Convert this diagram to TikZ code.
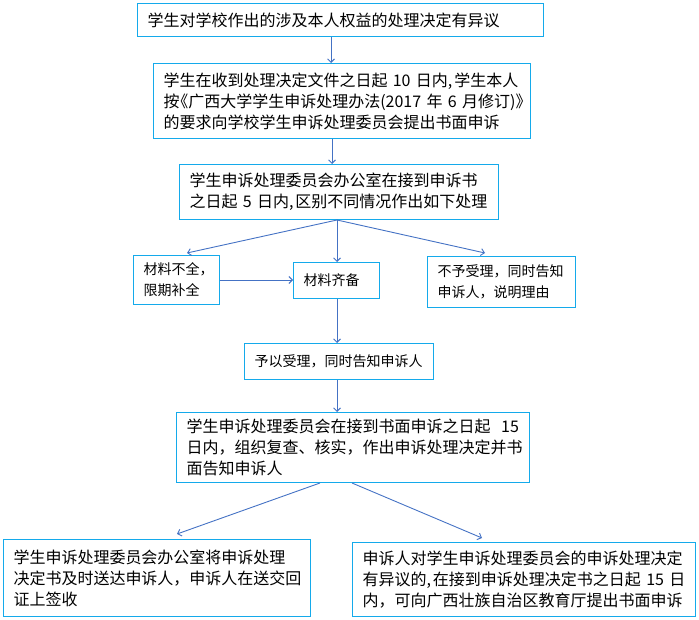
\documentclass[tikz,border=0pt]{standalone}
\usepackage{fontspec}
\setmainfont{Noto Sans CJK SC}
\usetikzlibrary{arrows.meta,calc}
\definecolor{boxc}{RGB}{20,170,235}
\definecolor{arrc}{RGB}{68,114,196}
\begin{document}
\begin{tikzpicture}[x=1pt,y=1pt,
  box/.style={draw=boxc, line width=1pt, anchor=north west, align=left,
    inner xsep=10pt, inner ysep=0pt, font=\fontsize{16}{21}\selectfont},
  sbox/.style={box, font=\fontsize{14}{21}\selectfont},
  arr/.style={draw=arrc, line width=0.9pt, -{Straight Barb[length=3.5pt,width=7pt]}}]
\useasboundingbox (0,0) rectangle (699,-620);
\node[box, text width=386pt, minimum height=33pt] (b1) at (137,-3)
  {学生对学校作出的涉及本人权益的处理决定有异议};
\node[box, text width=357pt, minimum height=75pt] (b2) at (153,-63)
  {学生在收到处理决定文件之日起~10~日内,\hspace{2pt}学生本人\\\mbox{按\kern-.45em《广西大学学生申诉处理办法(2017~年~6~月修订)》}\\的要求向学校学生申诉处理委员会提出书面申诉};
\node[box, text width=299pt, minimum height=55pt] (b3) at (179,-164)
  {学生申诉处理委员会办公室在接到申诉书\\之日起~5~日内,\hspace{2pt}区别不同情况作出如下处理};
\node[sbox, text width=66pt, minimum height=49pt] (b4) at (133,-255)
  {材料不全，\\限期补全};
\node[sbox, text width=66pt, minimum height=36pt] (b5) at (293,-262)
  {材料齐备};
\node[sbox, text width=128pt, minimum height=51pt] (b6) at (427,-256)
  {不予受理，同时告知\\申诉人，说明理由};
\node[sbox, text width=169pt, minimum height=36pt] (b7) at (244,-343)
  {予以受理，同时告知申诉人};
\node[box, text width=333pt, minimum height=70pt] (b8) at (176,-412)
  {学生申诉处理委员会在接到书面申诉之日起~~15\\日内，组织复查、核实，作出申诉处理决定并书\\面告知申诉人};
\node[box, text width=287pt, minimum height=77pt] (b9) at (3,-539)
  {学生申诉处理委员会办公室将申诉处理\\决定书及时送达申诉人，申诉人在送交回\\证上签收};
\node[box, text width=323pt, minimum height=74pt] (b10) at (352,-542)
  {申诉人对学生申诉处理委员会的申诉处理决定\\有异议的,\hspace{2pt}在接到申诉处理决定书之日起~15~日\\内，可向广西壮族自治区教育厅提出书面申诉};
\coordinate (xa) at (331,0);
\coordinate (xb) at (332,0);
\coordinate (xc) at (337,0);
\coordinate (e4) at (187,-253);
\coordinate (e6) at (485,-253);
\coordinate (s8a) at (320,0);
\coordinate (s8b) at (352,0);
\coordinate (e9) at (177,-534);
\coordinate (e10) at (482,-538);
\draw[arr] (b1.south -| xa) -- (b2.north -| xa);
\draw[arr] (b2.south -| xb) -- (b3.north -| xb);
\draw[arr] (b3.south -| xc) -- (e4);
\draw[arr] (b3.south -| xc) -- (b5.north -| xc);
\draw[arr] (b3.south -| xc) -- (e6);
\draw[arr] (b4.east) -- (b4.east -| b5.west);
\draw[arr] (b5.south -| xc) -- (b7.north -| xc);
\draw[arr] (b7.south -| xc) -- (b8.north -| xc);
\draw[arr] (b8.south -| s8a) -- (e9);
\draw[arr] (b8.south -| s8b) -- (e10);
\end{tikzpicture}
\end{document}
